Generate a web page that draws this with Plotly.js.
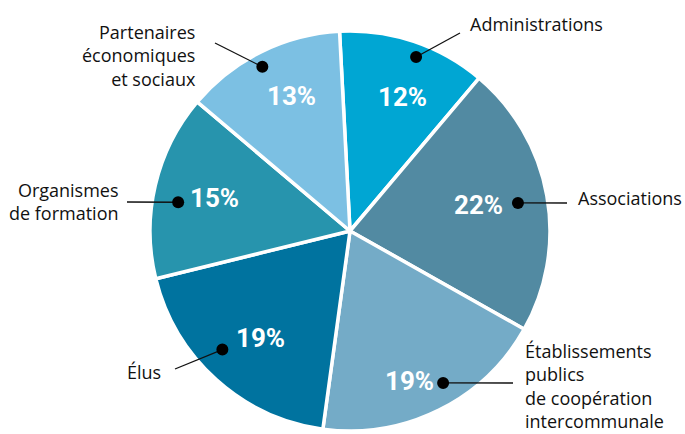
<!DOCTYPE html>
<html>
<head>
<meta charset="utf-8">
<script src="https://cdn.plot.ly/plotly-3.0.1.min.js"></script>
<style>html,body{margin:0;padding:0;background:#fff;}#chart{width:685px;height:434px;}</style>
</head>
<body>
<div id="chart"></div>
<script>
// ---- data ----
const categories = ['Administrations', 'Associations', 'Établissements publics de coopération intercommunale', 'Élus', 'Organismes de formation', 'Partenaires économiques et sociaux'];
const labelTexts = ['Administrations', 'Associations', 'Établissements<br>publics<br>de coopération<br>intercommunale', 'Élus', 'Organismes<br>de formation', 'Partenaires<br>économiques<br>et sociaux'];
const values = [12, 22, 19, 19, 15, 13];
const colors = ['#00a6d3', '#528aa2', '#74abc7', '#00739f', '#2794ad', '#7cc0e3'];

// ---- layout helpers (positions only) ----
const W = 685, H = 434;
const cx = 350, cy = 231, R = 198, Rplot = 200;
const rotation = -3;
// percent-label placement: angle offset from slice middle (deg) and radius fraction
const pctAngleOff = [2.6, -1.3, 4.7, -2, 0.5, 3.1];
const pctRadius = [0.727, 0.662, 0.818, 0.707, 0.702, 0.742];
// leader-dot placement: angle offset from slice middle (deg) and radius fraction
const dotAngleOff = [2.2, 0.7, -5.1, 5.1, -3.7, -1.7];
const dotRadius = [0.94, 0.86, 0.90, 0.88, 0.88, 0.94];
const labelPos = [[468, 24, 'left'], [576, 198, 'left'], [523, 386, 'left'], [163, 372, 'right'], [121, 201, 'right'], [198, 55, 'right']];
const lineEnd = [[460, 33], [567, 203], [513, 383], [175, 369], [127, 202], [215, 43]];

const total = values.reduce((a, b) => a + b, 0);
let acc = 0;
const midAngles = values.map(v => { const m = rotation + (acc + v / 2) / total * 360; acc += v; return m; });
const polar = (deg, r) => [cx + r * Math.sin(deg * Math.PI / 180), cy - r * Math.cos(deg * Math.PI / 180)];
const dots = midAngles.map((a, i) => polar(a + dotAngleOff[i], R * dotRadius[i]));

const pie = {
  type: 'pie', values: values, labels: categories, sort: false, direction: 'clockwise', rotation: rotation,
  marker: {colors: colors, line: {color: '#ffffff', width: 3.5}},
  textinfo: 'none', hoverinfo: 'none', showlegend: false,
  domain: {x: [(cx - Rplot) / W, (cx + Rplot) / W], y: [(H - cy - Rplot) / H, (H - cy + Rplot) / H]}
};
// invisible cartesian trace to establish pixel-like axes
const anchor = {type: 'scatter', mode: 'markers', x: [0, W], y: [0, H], marker: {opacity: 0}, hoverinfo: 'skip', showlegend: false};

const shapes = [];
dots.forEach((d, i) => {
  shapes.push({type: 'line', xref: 'x', yref: 'y', x0: d[0], y0: d[1], x1: lineEnd[i][0], y1: lineEnd[i][1], line: {color: '#111', width: 1.3}, layer: 'above'});
  shapes.push({type: 'circle', xref: 'x', yref: 'y', x0: d[0] - 6, x1: d[0] + 6, y0: d[1] - 6, y1: d[1] + 6, fillcolor: '#000', line: {width: 0}, layer: 'above'});
});

const annotations = [];
values.forEach((v, i) => {
  const p = polar(midAngles[i] + pctAngleOff[i], R * pctRadius[i]);
  annotations.push({x: p[0], y: p[1], xref: 'x', yref: 'y', text: '<b>' + v + '%</b>', showarrow: false,
    font: {family: 'Roboto, "Liberation Sans", sans-serif', size: 26, color: '#ffffff'},
    xanchor: 'center', yanchor: 'middle'});
  annotations.push({x: labelPos[i][0], y: labelPos[i][1], xref: 'x', yref: 'y', text: labelTexts[i], showarrow: false,
    font: {family: '"Open Sans", "Noto Sans", sans-serif', size: 18, color: '#111'},
    xanchor: labelPos[i][2], yanchor: 'middle', align: labelPos[i][2]});
});

const layout = {
  width: W, height: H, margin: {l: 0, r: 0, t: 0, b: 0}, paper_bgcolor: '#fff', plot_bgcolor: 'rgba(0,0,0,0)',
  xaxis: {range: [0, W], visible: false, fixedrange: true},
  yaxis: {range: [H, 0], visible: false, fixedrange: true},
  annotations: annotations, shapes: shapes, showlegend: false, hovermode: false
};
Plotly.newPlot('chart', [pie, anchor], layout, {staticPlot: true, displayModeBar: false});
</script>
</body>
</html>
